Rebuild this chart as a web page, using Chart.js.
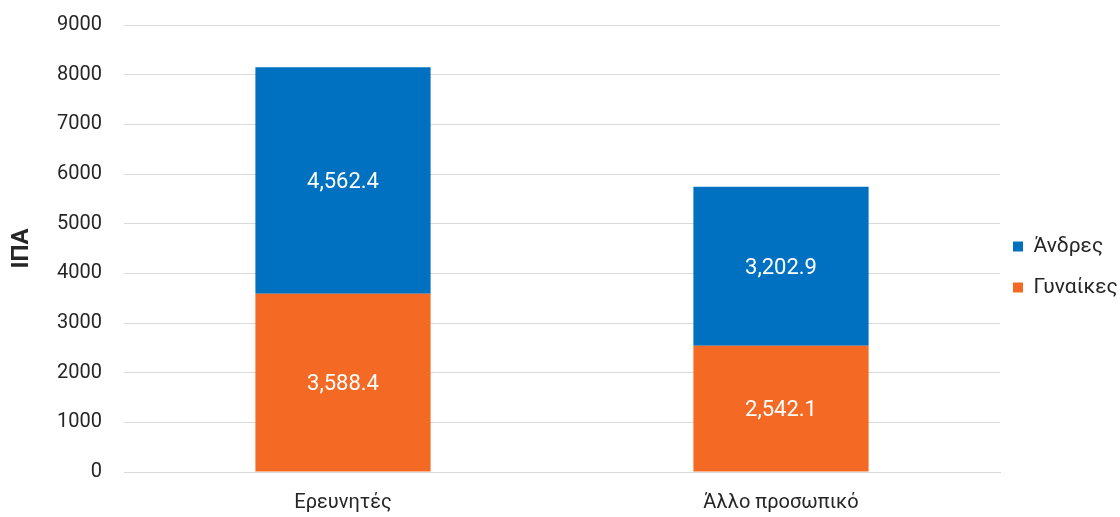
<!DOCTYPE html>
<html>
<head>
<meta charset="utf-8">
<script src="https://cdn.jsdelivr.net/npm/chart.js@4/dist/chart.umd.min.js"></script>
<style>
  html, body { margin: 0; padding: 0; background: #fff; }
  #wrap { width: 1120px; height: 517px; }
</style>
</head>
<body>
<div id="wrap"><canvas id="grafico"></canvas></div>
<script>
// categorias e valores (ΙΠΑ)
const categorias = ['Ερευνητές', 'Άλλο προσωπικό'];
const gynaikes = [3588.4, 2542.1];
const andres = [4562.4, 3202.9];
const ticksY = [0, 1000, 2000, 3000, 4000, 5000, 6000, 7000, 8000, 9000];

const fonte = "Roboto, 'Noto Sans', sans-serif";

/* rótulos brancos no centro de cada barra */
const rotulosBarras = {
  id: 'rotulosBarras',
  afterDatasetsDraw(chart) {
    const ctx = chart.ctx;
    ctx.save();
    ctx.fillStyle = '#ffffff';
    ctx.font = '22px ' + fonte;
    ctx.textAlign = 'center';
    ctx.textBaseline = 'middle';
    chart.data.datasets.forEach((ds, i) => {
      chart.getDatasetMeta(i).data.forEach((bar, j) => {
        const p = bar.getProps(['x', 'y', 'base'], true);
        const txt = ds.data[j].toLocaleString('en-US', { minimumFractionDigits: 1, maximumFractionDigits: 1 });
        ctx.fillText(txt, p.x, (p.y + p.base) / 2 + 2);
      });
    });
    ctx.restore();
  }
};

/* aproxima a legenda da área do gráfico */
const ajusteLegenda = {
  id: 'ajusteLegenda',
  afterLayout(chart) {
    if (chart.legend) {
      chart.legend.left -= 7;
      chart.legend.top -= 4;
      chart.legend.bottom -= 4;
    }
  }
};

var ctx = document.getElementById('grafico');
var myChart = new Chart(ctx, {
  type: 'bar',
  data: {
    labels: categorias,
    datasets: [
      { label: 'Γυναίκες', data: gynaikes, backgroundColor: '#f46a25' },
      { label: 'Άνδρες', data: andres, backgroundColor: '#0070c0' }
    ]
  },
  options: {
    responsive: true,
    maintainAspectRatio: false,
    animation: false,
    layout: { padding: { top: 25, right: 0, bottom: 0, left: 8 } },
    datasets: { bar: { barPercentage: 0.4, categoryPercentage: 1.0 } },
    scales: {
      x: {
        stacked: true,
        afterFit(scale) { scale.height = 45; },
        grid: { display: false },
        border: { color: '#d9d9d9', width: 1 },
        ticks: { color: '#262626', font: { family: fonte, size: 20 }, padding: 11 }
      },
      y: {
        stacked: true,
        min: 0,
        max: 9000,
        afterBuildTicks(scale) { scale.ticks = ticksY.map(v => ({ value: v })); },
        afterFit(scale) {
          scale.width = 116;
          scale.paddingTop = 0;
          scale.paddingBottom = 0;
        },
        grid: { color: '#d9d9d9', drawTicks: false },
        border: { display: false },
        ticks: {
          color: '#262626',
          font: { family: fonte, size: 20 },
          padding: 22,
          callback: v => String(v)
        },
        title: { display: true, text: 'ΙΠΑ', color: '#262626', font: { family: fonte, size: 24, weight: 'bold' }, padding: 0 }
      }
    },
    plugins: {
      tooltip: { enabled: false },
      legend: {
        position: 'right',
        reverse: true,
        maxWidth: 120,
        labels: {
          color: '#262626',
          font: { family: fonte, size: 21 },
          boxWidth: 10,
          boxHeight: 10,
          padding: 20
        }
      }
    }
  },
  plugins: [rotulosBarras, ajusteLegenda]
});
</script>
</body>
</html>
